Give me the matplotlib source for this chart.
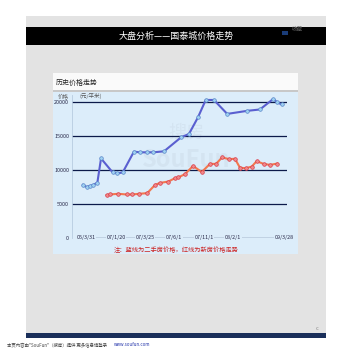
import numpy as np
import matplotlib
matplotlib.use("Agg")
import matplotlib.pyplot as plt
from matplotlib.patches import Rectangle

plt.rcParams['font.family'] = ['Noto Sans CJK SC', 'DejaVu Sans']

# second-hand price (blue) and new-home price (red), yuan / m2
blue_x = [5.1, 6.8, 8.4, 9.9, 11.8, 13.5, 18.9, 21.1, 23.6, 28.8, 31.6, 34.7, 37.8,
          42.8, 50.7, 54.4, 58.6, 62.2, 66.0, 72.2, 81.5, 87.4, 93.6, 95.5, 97.5]
blue_y = [7800, 7500, 7650, 7800, 8150, 11700, 9650, 9500, 9650, 12700, 12600, 12600, 12600,
          12750, 14800, 15300, 17750, 20300, 20300, 18250, 18700, 18900, 20450, 19950, 19650]
red_x = [16.1, 17.7, 21.5, 25.4, 27.8, 31.3, 35.0, 38.6, 40.9, 44.8, 47.9, 49.4, 52.6, 56.3,
         60.3, 64.2, 67.0, 69.8, 73.0, 75.8, 78.1, 80.7, 83.6, 85.9, 89.1, 92.1, 95.5]
red_y = [6300, 6400, 6500, 6400, 6400, 6500, 6600, 7800, 8100, 8300, 8800, 8900, 9400, 10600,
         9700, 10900, 10900, 11850, 11600, 11650, 10350, 10250, 10500, 11300, 10900, 10750, 10950]

tick_pos = [6.5, 20.5, 34.0, 47.4, 61.4, 74.9, 98.6]
tick_labels = ['05/3/31', '07/1/20', '07/3/25', '07/6/1', '07/11/1', '08/2/1', '09/3/28']
y_ticks = [0, 5000, 10000, 15000, 20000]

W, H = 351, 355
fig = plt.figure(figsize=(W / 100, H / 100), dpi=100)
fig.patch.set_facecolor('white')


def box(x0, y0, x1, y1, color, **kw):
    # pixel box (top-left origin) -> figure fraction
    fig.add_artist(Rectangle((x0 / W, 1 - y1 / H), (x1 - x0) / W, (y1 - y0) / H,
                             transform=fig.transFigure, facecolor=color,
                             edgecolor='none', zorder=0, **kw))


def ftext(x, y, s, **kw):
    fig.text(x / W, 1 - y / H, s, **kw)


# page panels
box(26, 16, 326, 333, '#e3e3e3')
box(26, 333, 326, 338, '#1a2f5a')
box(26, 27, 326, 45, '#000000')
box(282, 31, 288, 35, '#1a3c78')
box(53, 73, 298, 91, '#fafafa')
box(53, 90, 298, 91.5, '#c8c8c8')
box(53, 91.5, 298, 254, '#dcedfa')

ftext(176, 36, '大盘分析——国泰城价格走势', color='white', fontsize=6.5,
      ha='center', va='center')
ftext(292, 29, '收藏', color='#666666', fontsize=4, ha='left', va='center')
ftext(56, 83, '历史价格走势', color='#222222', fontsize=5, ha='left', va='center')
ftext(58, 96, '价格', color='#666666', fontsize=4, ha='left', va='center')
ftext(80, 96, '(元/平米)', color='#555555', fontsize=4, ha='left', va='center')
ftext(176, 250, '注：蓝线为二手房价格，红线为新房价格走势', color='#cc2222',
      fontsize=4.5, ha='center', va='center')
ftext(317, 328, 'c', color='#888888', fontsize=4, ha='center', va='center')
ftext(7, 345, '本页内容由"SouFun"（搜房）提供 更多信息请登录', color='#444444',
      fontsize=3.2, ha='left', va='center')
ftext(114, 345, 'www.soufun.com', color='#2233aa', fontsize=3.2, ha='left', va='center')

# chart axes
ax = fig.add_axes([72 / W, 1 - 238 / H, 215 / W, 143 / H])
ax.set_zorder(5)
ax.set_facecolor('none')
ax.set_xlim(0, 100)
ax.set_ylim(0, 21030)
for s in ['top', 'right', 'bottom']:
    ax.spines[s].set_visible(False)
ax.spines['left'].set_color('#b8cce0')
ax.spines['left'].set_linewidth(0.6)

for v in y_ticks[1:]:
    ax.axhline(v, color='#0c1a4a', lw=0.9, zorder=1)
ax.axhline(0, xmin=0.05, xmax=0.95, color='#0c1a4a', lw=0.9, zorder=1)

ax.set_yticks(y_ticks)
ax.set_yticklabels([str(v) for v in y_ticks], fontsize=3.9, color='#2a2a4a')
ax.tick_params(axis='y', length=0, pad=2)
ax.set_xticks([])

for p, lab in zip(tick_pos, tick_labels):
    ax.text(p, 0, lab, fontsize=3.9, color='#2a2a4a', ha='center', va='center',
            bbox=dict(facecolor='#dcedfa', edgecolor='none', pad=0.4), zorder=3,
            clip_on=False)

# faint watermark
ax.text(53, 11500, 'SouFun', fontsize=17, color='#cbdae8', ha='center', va='center',
        alpha=0.45, zorder=0, fontweight='bold')
ax.text(53, 15500, '搜房', fontsize=13, color='#cbdae8', ha='center', va='center',
        alpha=0.45, zorder=0)

ax.plot(blue_x, blue_y, color='#5a5fd0', lw=1.5, marker='o', ms=2.6,
        mfc='#9fd2f2', mec='#5a86c8', mew=0.5, zorder=4)
ax.plot(red_x, red_y, color='#f2774f', lw=1.5, marker='o', ms=2.6,
        mfc='#f08a8a', mec='#d83a4a', mew=0.5, zorder=4)

fig.savefig('out.png', dpi=100)
